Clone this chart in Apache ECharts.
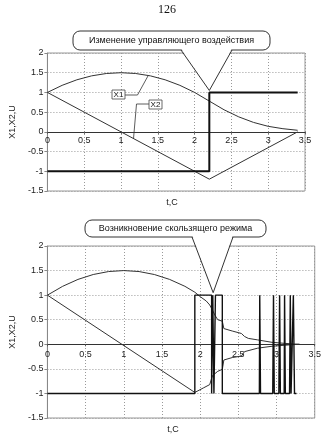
<!DOCTYPE html>
<html><head><meta charset="utf-8">
<script src="https://cdn.jsdelivr.net/npm/echarts@6/dist/echarts.min.js"></script>
<style>html,body{margin:0;padding:0;background:#fff}#c{width:324px;height:438px}</style>
</head><body><div id="c"></div>
<script>
const pageNumber = '126';
const axisName = 'X1,X2,U';
const timeName = 't,C';
const topNote = 'Изменение управляющего воздействия';
const bottomNote = 'Возникновение скользящего режима';
const labelX1 = 'X1';
const labelX2 = 'X2';

// axis ranges
const tMin = 0, tMax = 3.5, tStep = 0.5;
const vMin = -1.5, vMax = 2, vStep = 0.5;

// top chart
const topX1T = [0,0.2,0.4,0.6,0.8,1.0,1.2,1.4,1.6,1.8,2.0,2.2,2.4,2.6,2.8,3.0,3.2,3.4];
const topX1  = [1,1.18,1.32,1.42,1.48,1.5,1.48,1.42,1.32,1.18,1.0,0.78,0.56,0.38,0.24,0.14,0.08,0.04];
const topX2T = [0,2.2,3.4];
const topX2  = [1,-1.2,0];
const topUT  = [0,2.2,2.2,3.4];
const topU   = [-1,-1,1,1];

// bottom chart
const botX1T = [0,0.2,0.4,0.6,0.8,1.0,1.2,1.4,1.6,1.8,1.93,2.0,2.08,2.125,2.16,2.19,2.23,2.29,2.31,2.42,2.54,2.58,2.63,2.75,2.94,3.1,3.23,3.3];
const botX1  = [1,1.18,1.32,1.42,1.48,1.5,1.48,1.42,1.32,1.18,1.06,0.97,0.88,0.8,0.7,0.6,0.5,0.47,0.32,0.27,0.22,0.16,0.12,0.09,0.04,0.02,0.005,0];
const botX2T = [0,1.93,2.04,2.125,2.16,2.23,2.29,2.31,2.42,2.54,2.58,2.75,2.94,3.1,3.23,3.3];
const botX2  = [1,-0.98,-0.89,-0.82,-0.64,-0.55,-0.51,-0.32,-0.27,-0.24,-0.15,-0.08,-0.04,-0.02,-0.005,0];
const botUT  = [0,1.93,1.93,2.15,2.15,2.165,2.165,2.18,2.18,2.2,2.2,2.29,2.29,2.775,2.78,2.79,2.95,2.96,2.97,3.03,3.04,3.05,3.1,3.105,3.115,3.17,3.18,3.19,3.21,3.22,3.235,3.26];
const botU   = [-1,-1,1,1,-1,-1,1,1,-1,-1,1,1,-1,-1,1,-1,-1,1,-1,-1,1,-1,-1,1,-1,-1,1,-1,-1,1,-1,-1];

const zip = (a,b)=>a.map((v,i)=>[v,b[i]]);
const FONT = 'Liberation Sans, Arial, sans-serif';
const chart = echarts.init(document.getElementById('c'), null, {renderer:'canvas'});

const grids = [
  {left:39, top:53, width:266, height:138},
  {left:35, top:246, width:280, height:172}
];
const zeroShift = g => -grids[g].height * (0 - vMin) / (vMax - vMin);

function xAx(g, margin){
  return {type:'value', gridIndex:g, min:tMin, max:tMax, interval:tStep, position:'bottom', offset:zeroShift(g),
    axisLine:{show:true, onZero:false, lineStyle:{color:'#333', width:1}},
    axisTick:{show:true, length:2, lineStyle:{color:'#555'}},
    axisLabel:{margin:margin, fontSize:9, color:'#222', fontFamily:FONT},
    splitLine:{show:true, lineStyle:{color:'#999', type:[1,2], width:1}}};
}
function yAx(g, gap){
  return {type:'value', gridIndex:g, min:vMin, max:vMax, interval:vStep,
    name:axisName, nameLocation:'middle', nameGap:gap, nameRotate:90,
    nameTextStyle:{fontSize:9, color:'#222', fontFamily:FONT},
    axisLine:{show:true, onZero:false, lineStyle:{color:'#888'}},
    axisTick:{show:true, length:3, lineStyle:{color:'#888'}},
    axisLabel:{margin:4, fontSize:9, color:'#222', fontFamily:FONT},
    splitLine:{show:true, lineStyle:{color:'#999', type:[1,2], width:1}}};
}
function line(data, xi, w, col){
  return {type:'line', xAxisIndex:xi, yAxisIndex:xi, data:data, showSymbol:false, symbol:'none',
    lineStyle:{color:col, width:w}, animation:false, z:3};
}

chart.setOption({
  animation:false,
  backgroundColor:'#fff',
  grid:grids.map(g=>Object.assign({show:true, borderColor:'#999', borderWidth:1, containLabel:false}, g)),
  xAxis:[xAx(0,4), xAx(1,6)],
  yAxis:[yAx(0,22), yAx(1,23)],
  series:[
    line(zip(topX1T, topX1), 0, 1, '#333'),
    line(zip(topX2T, topX2), 0, 1, '#333'),
    line(zip(topUT, topU), 0, 2, '#111'),
    line(zip(botX1T, botX1), 1, 1, '#333'),
    line(zip(botX2T, botX2), 1, 1, '#333'),
    line(zip(botUT, botU), 1, 1.4, '#111')
  ]
});

function px(g, v){ return chart.convertToPixel({xAxisIndex:g, yAxisIndex:g}, v); }
const tip1 = px(0,[2.2,1.05]);
const tip2 = px(1,[2.17,1.05]);
const lx1 = px(0,[1.37,1.43]);
const lx2 = px(0,[1.17,-0.17]);

function bubble(x,y,w,h,lx,rx,tip,text){
  const b = y+h;
  return [
    {type:'rect', shape:{x:x,y:y,width:w,height:h,r:7}, style:{fill:'#fff', stroke:'#333', lineWidth:1}, z:10},
    {type:'polygon', shape:{points:[[lx+0.5,b-1],tip,[rx-0.5,b-1]]}, style:{fill:'#fff'}, z:11},
    {type:'polyline', shape:{points:[[lx,b],tip,[rx,b]]}, style:{stroke:'#333', lineWidth:1, fill:null}, z:12},
    {type:'text', x:x+w/2, y:y+h/2, style:{text:text, align:'center', verticalAlign:'middle', font:'9px '+FONT, fill:'#111'}, z:13}
  ];
}
function tag(x,y,w,h,text){
  return [
    {type:'rect', shape:{x:x,y:y,width:w,height:h}, style:{fill:'#fff', stroke:'#444', lineWidth:0.8}, z:10},
    {type:'text', x:x+w/2, y:y+h/2+0.5, style:{text:text, align:'center', verticalAlign:'middle', font:'8px '+FONT, fill:'#111'}, z:13}
  ];
}

const elems = [].concat(
  [{type:'text', x:167, y:10, style:{text:pageNumber, align:'center', verticalAlign:'middle', font:'12px Liberation Serif, serif', fill:'#111'}}],
  bubble(73,31,197,19,181,232,tip1,topNote),
  bubble(85,220,181,17,192,233,tip2,bottomNote),
  [{type:'polyline', shape:{points:[[125,95],[137.5,95],lx1]}, style:{stroke:'#333', lineWidth:0.8, fill:null}, z:9},
   {type:'polyline', shape:{points:[[149,104],[136.5,104],lx2]}, style:{stroke:'#333', lineWidth:0.8, fill:null}, z:9}],
  tag(112,90,13,9,labelX1),
  tag(149,100,13,9,labelX2),
  [{type:'text', x:172, y:203, style:{text:timeName, align:'center', verticalAlign:'middle', font:'9px '+FONT, fill:'#222'}},
   {type:'text', x:173, y:430, style:{text:timeName, align:'center', verticalAlign:'middle', font:'9px '+FONT, fill:'#222'}}]
);
chart.setOption({graphic:{elements:elems}});
</script></body></html>
